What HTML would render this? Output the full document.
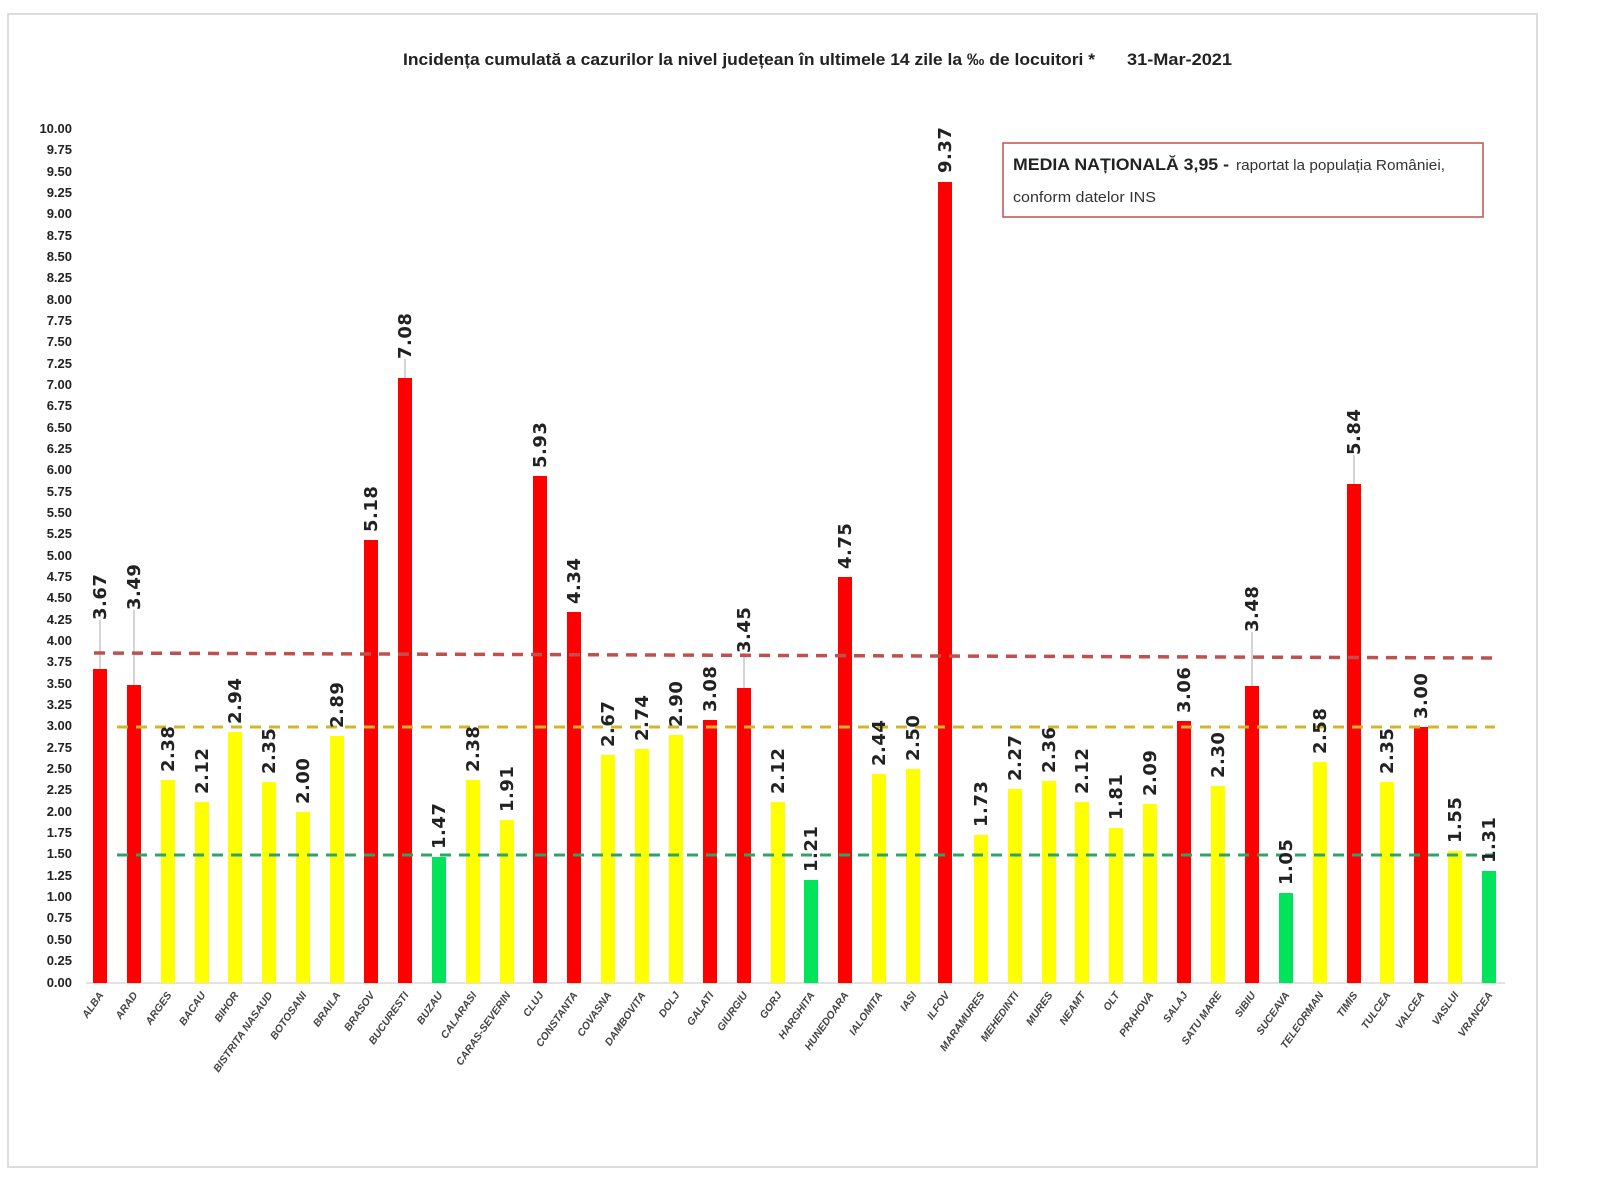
<!DOCTYPE html>
<html><head><meta charset="utf-8"><style>html,body{margin:0;padding:0;background:#fff}svg{display:block}</style></head><body>
<svg width="1600" height="1200" viewBox="0 0 1600 1200" xmlns="http://www.w3.org/2000/svg">
<rect x="8" y="14" width="1529" height="1153" fill="#fff" stroke="#dcdcdc" stroke-width="2"/>
<text x="403" y="65" font-family="Liberation Sans, sans-serif" font-weight="bold" font-size="17" fill="#222" textLength="692" lengthAdjust="spacingAndGlyphs">Incidența cumulată a cazurilor la nivel județean în ultimele 14 zile la ‰ de locuitori *</text>
<text x="1127" y="65" font-family="Liberation Sans, sans-serif" font-weight="bold" font-size="17" fill="#222" textLength="105" lengthAdjust="spacingAndGlyphs">31-Mar-2021</text>
<rect x="1003" y="143" width="480" height="74" fill="#fff" stroke="#c0504d" stroke-width="1.5"/>
<text x="1013" y="170" font-family="Liberation Sans, sans-serif" font-weight="bold" font-size="17" fill="#222" textLength="216" lengthAdjust="spacingAndGlyphs">MEDIA NAȚIONALĂ  3,95 -</text>
<text x="1236" y="170" font-family="Liberation Sans, sans-serif" font-size="15" fill="#333" textLength="209" lengthAdjust="spacingAndGlyphs">raportat la populația României,</text>
<text x="1013" y="202" font-family="Liberation Sans, sans-serif" font-size="15" fill="#333" textLength="143" lengthAdjust="spacingAndGlyphs">conform datelor INS</text>
<g font-family="Liberation Sans, sans-serif" font-weight="bold" font-size="13" fill="#222" text-anchor="end">
<text x="72" y="133">10.00</text><text x="72" y="154">9.75</text><text x="72" y="176">9.50</text><text x="72" y="197">9.25</text><text x="72" y="218">9.00</text><text x="72" y="240">8.75</text><text x="72" y="261">8.50</text><text x="72" y="282">8.25</text><text x="72" y="304">8.00</text><text x="72" y="325">7.75</text><text x="72" y="346">7.50</text><text x="72" y="368">7.25</text><text x="72" y="389">7.00</text><text x="72" y="410">6.75</text><text x="72" y="432">6.50</text><text x="72" y="453">6.25</text><text x="72" y="474">6.00</text><text x="72" y="496">5.75</text><text x="72" y="517">5.50</text><text x="72" y="538">5.25</text><text x="72" y="560">5.00</text><text x="72" y="581">4.75</text><text x="72" y="602">4.50</text><text x="72" y="624">4.25</text><text x="72" y="645">4.00</text><text x="72" y="666">3.75</text><text x="72" y="688">3.50</text><text x="72" y="709">3.25</text><text x="72" y="730">3.00</text><text x="72" y="752">2.75</text><text x="72" y="773">2.50</text><text x="72" y="794">2.25</text><text x="72" y="816">2.00</text><text x="72" y="837">1.75</text><text x="72" y="858">1.50</text><text x="72" y="880">1.25</text><text x="72" y="901">1.00</text><text x="72" y="922">0.75</text><text x="72" y="944">0.50</text><text x="72" y="965">0.25</text><text x="72" y="987">0.00</text>
</g>
<line x1="86" y1="983" x2="1505" y2="983" stroke="#d9d9d9" stroke-width="1.5"/>
<g stroke="#aaa" stroke-width="1">
<line x1="100" y1="620" x2="100" y2="669"/><line x1="134" y1="610" x2="134" y2="685"/><line x1="405" y1="359" x2="405" y2="378"/><line x1="744" y1="653" x2="744" y2="688"/><line x1="1252" y1="632" x2="1252" y2="686"/><line x1="1354" y1="455" x2="1354" y2="484"/>
</g>
<g>
<rect x="93" y="669" width="14" height="314" fill="#f00"/>
<rect x="127" y="685" width="14" height="298" fill="#f00"/>
<rect x="161" y="780" width="14" height="203" fill="#ff0"/>
<rect x="195" y="802" width="14" height="181" fill="#ff0"/>
<rect x="228" y="732" width="14" height="251" fill="#ff0"/>
<rect x="262" y="782" width="14" height="201" fill="#ff0"/>
<rect x="296" y="812" width="14" height="171" fill="#ff0"/>
<rect x="330" y="736" width="14" height="247" fill="#ff0"/>
<rect x="364" y="540" width="14" height="443" fill="#f00"/>
<rect x="398" y="378" width="14" height="605" fill="#f00"/>
<rect x="432" y="857" width="14" height="126" fill="#00e35a"/>
<rect x="466" y="780" width="14" height="203" fill="#ff0"/>
<rect x="500" y="820" width="14" height="163" fill="#ff0"/>
<rect x="533" y="476" width="14" height="507" fill="#f00"/>
<rect x="567" y="612" width="14" height="371" fill="#f00"/>
<rect x="601" y="755" width="14" height="228" fill="#ff0"/>
<rect x="635" y="749" width="14" height="234" fill="#ff0"/>
<rect x="669" y="735" width="14" height="248" fill="#ff0"/>
<rect x="703" y="720" width="14" height="263" fill="#f00"/>
<rect x="737" y="688" width="14" height="295" fill="#f00"/>
<rect x="771" y="802" width="14" height="181" fill="#ff0"/>
<rect x="804" y="880" width="14" height="103" fill="#00e35a"/>
<rect x="838" y="577" width="14" height="406" fill="#f00"/>
<rect x="872" y="774" width="14" height="209" fill="#ff0"/>
<rect x="906" y="769" width="14" height="214" fill="#ff0"/>
<rect x="938" y="182" width="14" height="801" fill="#f00"/>
<rect x="974" y="835" width="14" height="148" fill="#ff0"/>
<rect x="1008" y="789" width="14" height="194" fill="#ff0"/>
<rect x="1042" y="781" width="14" height="202" fill="#ff0"/>
<rect x="1075" y="802" width="14" height="181" fill="#ff0"/>
<rect x="1109" y="828" width="14" height="155" fill="#ff0"/>
<rect x="1143" y="804" width="14" height="179" fill="#ff0"/>
<rect x="1177" y="721" width="14" height="262" fill="#f00"/>
<rect x="1211" y="786" width="14" height="197" fill="#ff0"/>
<rect x="1245" y="686" width="14" height="297" fill="#f00"/>
<rect x="1279" y="893" width="14" height="90" fill="#00e35a"/>
<rect x="1313" y="762" width="14" height="221" fill="#ff0"/>
<rect x="1347" y="484" width="14" height="499" fill="#f00"/>
<rect x="1380" y="782" width="14" height="201" fill="#ff0"/>
<rect x="1414" y="727" width="14" height="256" fill="#f00"/>
<rect x="1448" y="851" width="14" height="132" fill="#ff0"/>
<rect x="1482" y="871" width="14" height="112" fill="#00e35a"/>
</g>
<line x1="94" y1="653" x2="1495" y2="658" stroke="#c0504d" stroke-width="3.5" stroke-dasharray="11,8"/>
<line x1="117" y1="727" x2="1495" y2="727" stroke="#d4b428" stroke-width="3" stroke-dasharray="11,8"/>
<line x1="117" y1="855" x2="1495" y2="855" stroke="#2fa46a" stroke-width="3" stroke-dasharray="11,8"/>
<g font-family="DejaVu Sans, sans-serif" font-weight="bold" font-size="18" fill="#222" letter-spacing="0.5">
<text transform="translate(106,620) rotate(-90)">3.67</text>
<text transform="translate(140,610) rotate(-90)">3.49</text>
<text transform="translate(174,772) rotate(-90)">2.38</text>
<text transform="translate(208,794) rotate(-90)">2.12</text>
<text transform="translate(241,724) rotate(-90)">2.94</text>
<text transform="translate(275,774) rotate(-90)">2.35</text>
<text transform="translate(309,804) rotate(-90)">2.00</text>
<text transform="translate(343,728) rotate(-90)">2.89</text>
<text transform="translate(377,532) rotate(-90)">5.18</text>
<text transform="translate(411,359) rotate(-90)">7.08</text>
<text transform="translate(445,849) rotate(-90)">1.47</text>
<text transform="translate(479,772) rotate(-90)">2.38</text>
<text transform="translate(513,812) rotate(-90)">1.91</text>
<text transform="translate(546,468) rotate(-90)">5.93</text>
<text transform="translate(580,604) rotate(-90)">4.34</text>
<text transform="translate(614,747) rotate(-90)">2.67</text>
<text transform="translate(648,741) rotate(-90)">2.74</text>
<text transform="translate(682,727) rotate(-90)">2.90</text>
<text transform="translate(716,712) rotate(-90)">3.08</text>
<text transform="translate(750,653) rotate(-90)">3.45</text>
<text transform="translate(784,794) rotate(-90)">2.12</text>
<text transform="translate(817,872) rotate(-90)">1.21</text>
<text transform="translate(851,569) rotate(-90)">4.75</text>
<text transform="translate(885,766) rotate(-90)">2.44</text>
<text transform="translate(919,761) rotate(-90)">2.50</text>
<text transform="translate(951,173) rotate(-90)">9.37</text>
<text transform="translate(987,827) rotate(-90)">1.73</text>
<text transform="translate(1021,781) rotate(-90)">2.27</text>
<text transform="translate(1055,773) rotate(-90)">2.36</text>
<text transform="translate(1088,794) rotate(-90)">2.12</text>
<text transform="translate(1122,820) rotate(-90)">1.81</text>
<text transform="translate(1156,796) rotate(-90)">2.09</text>
<text transform="translate(1190,713) rotate(-90)">3.06</text>
<text transform="translate(1224,778) rotate(-90)">2.30</text>
<text transform="translate(1258,632) rotate(-90)">3.48</text>
<text transform="translate(1292,885) rotate(-90)">1.05</text>
<text transform="translate(1326,754) rotate(-90)">2.58</text>
<text transform="translate(1360,455) rotate(-90)">5.84</text>
<text transform="translate(1393,774) rotate(-90)">2.35</text>
<text transform="translate(1427,719) rotate(-90)">3.00</text>
<text transform="translate(1461,843) rotate(-90)">1.55</text>
<text transform="translate(1495,863) rotate(-90)">1.31</text>
</g>
<g font-family="Liberation Sans, sans-serif" font-weight="bold" font-style="italic" font-size="10.5" fill="#444" text-anchor="end">
<text transform="translate(104,995) rotate(-55)">ALBA</text>
<text transform="translate(138,995) rotate(-55)">ARAD</text>
<text transform="translate(172,995) rotate(-55)">ARGES</text>
<text transform="translate(206,995) rotate(-55)">BACAU</text>
<text transform="translate(239,995) rotate(-55)">BIHOR</text>
<text transform="translate(273,995) rotate(-55)">BISTRITA NASAUD</text>
<text transform="translate(307,995) rotate(-55)">BOTOSANI</text>
<text transform="translate(341,995) rotate(-55)">BRAILA</text>
<text transform="translate(375,995) rotate(-55)">BRASOV</text>
<text transform="translate(409,995) rotate(-55)">BUCURESTI</text>
<text transform="translate(443,995) rotate(-55)">BUZAU</text>
<text transform="translate(477,995) rotate(-55)">CALARASI</text>
<text transform="translate(511,995) rotate(-55)">CARAS-SEVERIN</text>
<text transform="translate(544,995) rotate(-55)">CLUJ</text>
<text transform="translate(578,995) rotate(-55)">CONSTANTA</text>
<text transform="translate(612,995) rotate(-55)">COVASNA</text>
<text transform="translate(646,995) rotate(-55)">DAMBOVITA</text>
<text transform="translate(680,995) rotate(-55)">DOLJ</text>
<text transform="translate(714,995) rotate(-55)">GALATI</text>
<text transform="translate(748,995) rotate(-55)">GIURGIU</text>
<text transform="translate(782,995) rotate(-55)">GORJ</text>
<text transform="translate(815,995) rotate(-55)">HARGHITA</text>
<text transform="translate(849,995) rotate(-55)">HUNEDOARA</text>
<text transform="translate(883,995) rotate(-55)">IALOMITA</text>
<text transform="translate(917,995) rotate(-55)">IASI</text>
<text transform="translate(950,995) rotate(-55)">ILFOV</text>
<text transform="translate(985,995) rotate(-55)">MARAMURES</text>
<text transform="translate(1019,995) rotate(-55)">MEHEDINTI</text>
<text transform="translate(1053,995) rotate(-55)">MURES</text>
<text transform="translate(1086,995) rotate(-55)">NEAMT</text>
<text transform="translate(1120,995) rotate(-55)">OLT</text>
<text transform="translate(1154,995) rotate(-55)">PRAHOVA</text>
<text transform="translate(1188,995) rotate(-55)">SALAJ</text>
<text transform="translate(1222,995) rotate(-55)">SATU MARE</text>
<text transform="translate(1256,995) rotate(-55)">SIBIU</text>
<text transform="translate(1290,995) rotate(-55)">SUCEAVA</text>
<text transform="translate(1324,995) rotate(-55)">TELEORMAN</text>
<text transform="translate(1358,995) rotate(-55)">TIMIS</text>
<text transform="translate(1391,995) rotate(-55)">TULCEA</text>
<text transform="translate(1425,995) rotate(-55)">VALCEA</text>
<text transform="translate(1459,995) rotate(-55)">VASLUI</text>
<text transform="translate(1493,995) rotate(-55)">VRANCEA</text>
</g>
</svg>
</body></html>
